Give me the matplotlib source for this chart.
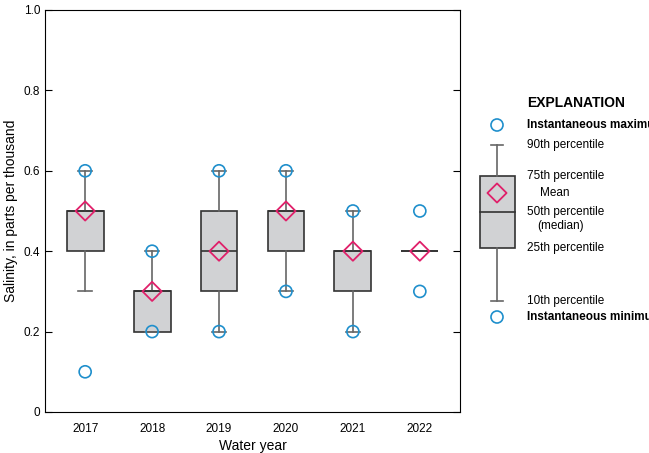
import matplotlib
matplotlib.use("Agg")
import matplotlib.pyplot as plt
from matplotlib.patches import Rectangle

years = ["2017", "2018", "2019", "2020", "2021", "2022"]
p10 = [0.3, 0.2, 0.2, 0.3, 0.2, 0.4]
q1 = [0.4, 0.2, 0.3, 0.4, 0.3, 0.4]
med = [0.5, 0.3, 0.4, 0.5, 0.4, 0.4]
q3 = [0.5, 0.3, 0.5, 0.5, 0.4, 0.4]
p90 = [0.6, 0.4, 0.6, 0.6, 0.5, 0.4]
means = [0.5, 0.3, 0.4, 0.5, 0.4, 0.4]
maxs = [0.6, 0.4, 0.6, 0.6, 0.5, 0.5]
mins = [0.1, 0.2, 0.2, 0.3, 0.2, 0.3]

plt.rcParams['font.family'] = ['Liberation Sans Narrow', 'Liberation Sans', 'DejaVu Sans']
fig = plt.figure(figsize=(6.49, 4.53), dpi=100)
ax = fig.add_axes([45/649, 41/453, 415/649, 402/453])
BLUE = "#1f8fcc"; PINK = "#e0206a"; GRAY = "#d1d2d4"
pos = list(range(1, 7))
stats = [dict(whislo=p10[i], q1=q1[i], med=med[i], q3=q3[i], whishi=p90[i], fliers=[]) for i in range(6)]
ax.bxp(stats, positions=pos, widths=0.55, patch_artist=True, showfliers=False,
       boxprops=dict(facecolor=GRAY, edgecolor="#333333", linewidth=1.2),
       medianprops=dict(color="#333333", linewidth=1.2),
       whiskerprops=dict(color="#666666", linewidth=1.2),
       capprops=dict(color="#666666", linewidth=1.2), capwidths=0.2)
ax.scatter(pos, maxs, s=75, facecolors="none", edgecolors=BLUE, linewidths=1.2, zorder=5)
ax.scatter(pos, mins, s=75, facecolors="none", edgecolors=BLUE, linewidths=1.2, zorder=5)
ax.scatter(pos, means, s=95, marker="D", facecolors="none", edgecolors=PINK, linewidths=1.3, zorder=6)
ax.set_xlim(0.4, 6.6)
ax.set_ylim(0, 1.0)
ax.set_yticks([0, 0.2, 0.4, 0.6, 0.8, 1.0])
ax.set_yticklabels(["0", "0.2", "0.4", "0.6", "0.8", "1.0"])
ax.set_xticks(pos)
ax.set_xticklabels(years)
ax.tick_params(direction="in", right=True, labelsize=8.5, length=5)
ax.tick_params(axis="x", direction="out", length=0, pad=8)
ax.set_xlabel("Water year", fontsize=10, labelpad=3)
ax.set_ylabel("Salinity, in parts per thousand", fontsize=10)

def fy(y): return 1 - y/453
fig.text(527/649, fy(103), "EXPLANATION", fontsize=10, fontweight="bold", va="center")
fig.text(527/649, fy(125), "Instantaneous maximum", fontsize=8.5, fontweight="bold", va="center")
fig.text(527/649, fy(317), "Instantaneous minimum", fontsize=8.5, fontweight="bold", va="center")
lax = fig.add_axes([0, 0, 1, 1], facecolor="none")
lax.set_xlim(0, 649); lax.set_ylim(453, 0); lax.axis("off")
lax.scatter([497, 497], [125, 317], s=75, facecolors="none", edgecolors=BLUE, linewidths=1.2)
lax.plot([497, 497], [145, 176], color="#666666", lw=1.2)
lax.plot([497, 497], [248, 301], color="#666666", lw=1.2)
lax.plot([491, 503], [145, 145], color="#666666", lw=1.2)
lax.plot([491, 503], [301, 301], color="#666666", lw=1.2)
lax.add_patch(Rectangle((480, 176), 35, 72, facecolor=GRAY, edgecolor="#333333", lw=1.2))
lax.plot([480, 515], [212, 212], color="#333333", lw=1.2)
lax.scatter([497], [193], s=95, marker="D", facecolors="none", edgecolors=PINK, linewidths=1.3)
for y, t in [(145, "90th percentile"), (176, "75th percentile"), (248, "25th percentile"), (301, "10th percentile")]:
    lax.text(527, y, t, fontsize=8.5, va="center")
lax.text(540, 193, "Mean", fontsize=8.5, va="center")
lax.text(527, 212, "50th percentile", fontsize=8.5, va="center")
lax.text(537, 226, "(median)", fontsize=8.5, va="center")
fig.savefig("out.png", dpi=100)
